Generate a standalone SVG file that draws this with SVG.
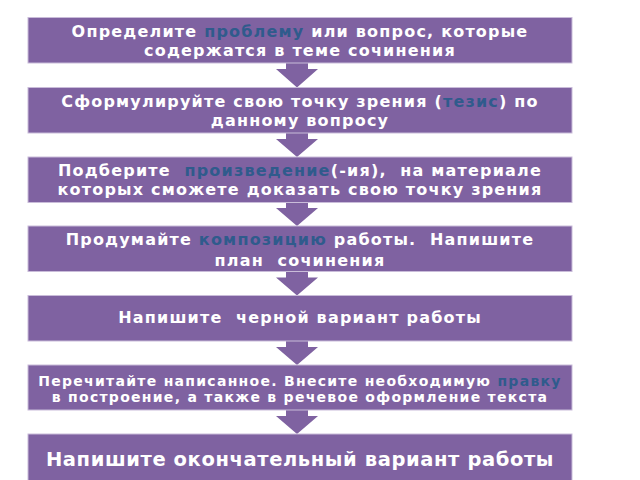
<svg xmlns="http://www.w3.org/2000/svg" width="640" height="480" viewBox="0 0 640 480" xml:space="preserve">
<style>
.box{fill:#7f62a1;stroke:#c9bcd9;stroke-width:1}
.arr{fill:#7f62a1}
.t{font-family:"DejaVu Sans",sans-serif;font-weight:bold;fill:#ffffff;text-anchor:middle;font-size:16px;letter-spacing:1.2px;white-space:pre}
.s{font-size:14px;letter-spacing:1.28px}
.b{font-size:19.5px;letter-spacing:0.6px}
.hl{fill:#2f5b8c}
</style>
<rect width="640" height="480" fill="#ffffff"/>
<g id="connectors">
<polygon class="arr" points="286,63 308,63 308,69 318,69 297,87.5 276,69 286,69"/>
<polygon class="arr" points="286,133 308,133 308,139 318,139 297,157 276,139 286,139"/>
<polygon class="arr" points="286,202 308,202 308,208 318,208 297,226 276,208 286,208"/>
<polygon class="arr" points="286,271.5 308,271.5 308,277.5 318,277.5 297,295.5 276,277.5 286,277.5"/>
<polygon class="arr" points="286,341 308,341 308,347 318,347 297,365 276,347 286,347"/>
<polygon class="arr" points="286,410 308,410 308,416 318,416 297,434 276,416 286,416"/>
</g>
<g id="n1">
<rect class="box" x="28" y="17.5" width="544" height="45.5"/>
<text class="t" x="300" y="37">Определите <tspan class="hl">проблему</tspan> или вопрос, которые</text>
<text class="t" x="300" y="56">содержатся в теме сочинения</text>
</g>
<g id="n2">
<rect class="box" x="28" y="87.5" width="544" height="45.5"/>
<text class="t" x="300" y="107">Сформулируйте свою точку зрения (<tspan class="hl">тезис</tspan>) по</text>
<text class="t" x="300" y="126">данному вопросу</text>
</g>
<g id="n3">
<rect class="box" x="28" y="157" width="544" height="45.5"/>
<text class="t" x="300" y="176">Подберите  <tspan class="hl">произведение</tspan>(-ия),  на материале</text>
<text class="t" x="300" y="195">которых сможете доказать свою точку зрения</text>
</g>
<g id="n4">
<rect class="box" x="28" y="226" width="544" height="45.5"/>
<text class="t" x="300" y="245">Продумайте <tspan class="hl">композицию</tspan> работы.  Напишите</text>
<text class="t" x="300" y="266">план  сочинения</text>
</g>
<g id="n5">
<rect class="box" x="28" y="295.5" width="544" height="45.5"/>
<text class="t" x="300" y="323">Напишите  черной вариант работы</text>
</g>
<g id="n6">
<rect class="box" x="28" y="365" width="544" height="45"/>
<text class="t s" x="300" y="386">Перечитайте написанное. Внесите необходимую <tspan class="hl">правку</tspan></text>
<text class="t s" x="300" y="402">в построение, а также в речевое оформление текста</text>
</g>
<g id="n7">
<rect class="box" x="28" y="434" width="544" height="47"/>
<text class="t b" x="300" y="466">Напишите окончательный вариант работы</text>
</g>
</svg>
